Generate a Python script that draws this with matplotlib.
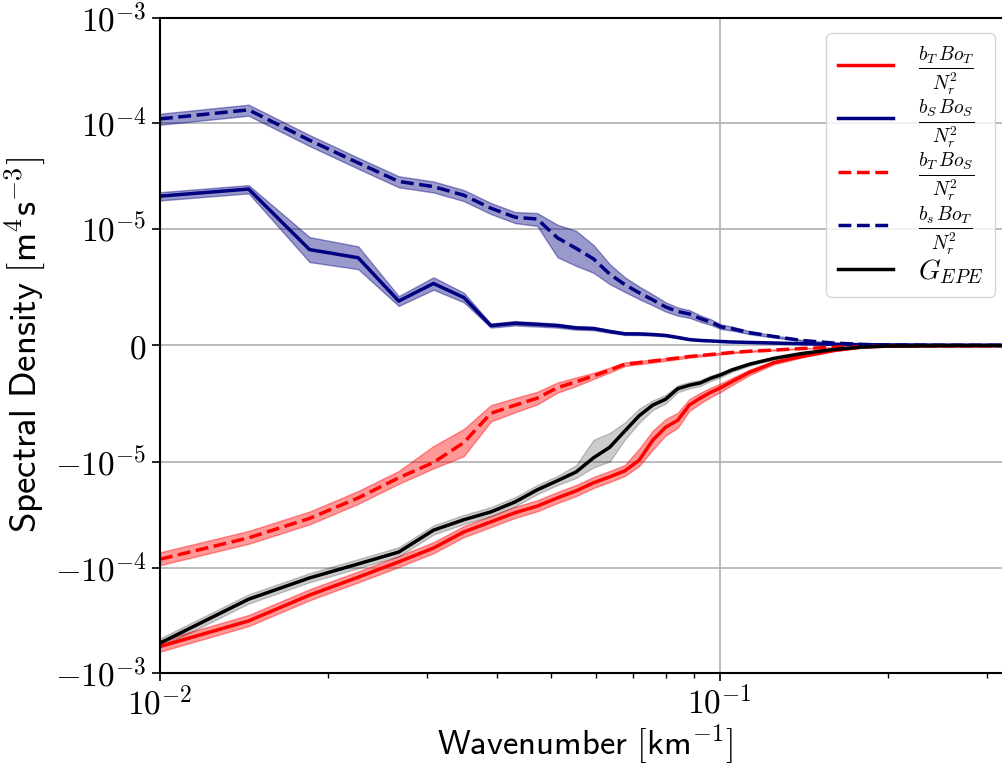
import numpy as np
import matplotlib
matplotlib.use("Agg")
import matplotlib.pyplot as plt

plt.rcParams['mathtext.fontset'] = 'cm'
plt.rcParams['font.family'] = ['DejaVu Sans']

# wavenumber [km^-1]
k = [0.0100, 0.0144, 0.0185, 0.0226, 0.0267, 0.0308, 0.0349, 0.0390, 0.0431, 0.0472,
     0.0513, 0.0554, 0.0595, 0.0636, 0.0677, 0.0718, 0.0759, 0.0800, 0.0841, 0.0882,
     0.0923, 0.0964, 0.1005, 0.105, 0.113, 0.125, 0.14, 0.16, 0.18, 0.20, 0.25, 0.33]

# b_S Bo_S / N_r^2  (navy dashed)
bS_BoS = [1.10e-4, 1.34e-4, 6.9e-5, 4.2e-5, 2.8e-5, 2.5e-5, 2.07e-5, 1.56e-5, 1.28e-5, 1.23e-5,
          9.2e-6, 8.3e-6, 7.4e-6, 6.1e-6, 5.2e-6, 4.5e-6, 3.9e-6, 3.3e-6, 2.9e-6, 2.7e-6,
          2.3e-6, 2.0e-6, 1.6e-6, 1.45e-6, 1.1e-6, 7.7e-7, 4.3e-7, 2.1e-7, 9e-8, 4e-8, 2e-8, 1e-8]
# b_S Bo_T / N_r^2  (navy solid)
bS_BoT = [2.03e-5, 2.37e-5, 8.2e-6, 7.5e-6, 3.8e-6, 5.3e-6, 4.1e-6, 1.7e-6, 1.9e-6, 1.8e-6,
          1.7e-6, 1.5e-6, 1.45e-6, 1.2e-6, 1.0e-6, 0.99e-6, 0.94e-6, 0.86e-6, 0.69e-6, 0.51e-6,
          0.43e-6, 0.39e-6, 0.34e-6, 0.30e-6, 0.26e-6, 0.21e-6, 0.15e-6, 0.10e-6, 0.07e-6, 0.05e-6,
          0.03e-6, 0.02e-6]
# b_T Bo_S / N_r^2  (red dashed)
bT_BoS = [-8.3e-5, -5.2e-5, -3.4e-5, -2.17e-5, -1.4e-5, -1.0e-5, -8.3e-6, -5.8e-6, -5.1e-6, -4.5e-6,
          -3.6e-6, -3.1e-6, -2.6e-6, -2.1e-6, -1.6e-6, -1.46e-6, -1.33e-6, -1.2e-6, -1.07e-6, -0.94e-6,
          -0.86e-6, -0.77e-6, -0.69e-6, -0.60e-6, -0.49e-6, -0.39e-6, -0.26e-6, -0.15e-6, -0.09e-6,
          -0.05e-6, -0.03e-6, -0.02e-6]
# b_T Bo_T / N_r^2  (red solid)
bT_BoT = [-5.6e-4, -3.2e-4, -1.82e-4, -1.23e-4, -8.8e-5, -6.5e-5, -4.57e-5, -3.67e-5, -3.0e-5, -2.6e-5,
          -2.17e-5, -1.86e-5, -1.56e-5, -1.37e-5, -1.2e-5, -9.8e-6, -8.1e-6, -7.0e-6, -6.4e-6, -5.1e-6,
          -4.5e-6, -4.0e-6, -3.6e-6, -3.1e-6, -2.3e-6, -1.46e-6, -0.94e-6, -0.43e-6, -0.13e-6,
          -0.05e-6, -0.02e-6, -0.01e-6]
# G_EPE (black)
G_EPE = [-5.2e-4, -1.99e-4, -1.25e-4, -9.2e-5, -7.1e-5, -4.4e-5, -3.5e-5, -2.95e-5, -2.37e-5, -1.82e-5,
         -1.49e-5, -1.23e-5, -9.6e-6, -8.7e-6, -7.3e-6, -6.0e-6, -5.1e-6, -4.6e-6, -3.7e-6, -3.4e-6,
         -3.2e-6, -2.8e-6, -2.5e-6, -2.1e-6, -1.6e-6, -1.1e-6, -0.69e-6, -0.34e-6, -0.13e-6,
         -0.05e-6, -0.02e-6, -0.01e-6]

# relative half-width of the shaded uncertainty bands
spread_bS_BoS = [0.12, 0.12, 0.12, 0.12, 0.12, 0.12, 0.12, 0.12, 0.12, 0.14,
                 0.18, 0.18, 0.16, 0.14, 0.12, 0.12, 0.12, 0.12, 0.12, 0.12,
                 0.12, 0.12, 0.12, 0.12, 0.12, 0.12, 0.12, 0.12, 0.12, 0.12, 0.12, 0.12]
spread_bS_BoT = [0.09, 0.09, 0.13, 0.13, 0.11, 0.10, 0.10, 0.10, 0.10, 0.10,
                 0.10, 0.10, 0.10, 0.10, 0.10, 0.10, 0.10, 0.10, 0.10, 0.10,
                 0.10, 0.10, 0.10, 0.10, 0.10, 0.10, 0.10, 0.10, 0.10, 0.10, 0.10, 0.10]
spread_bT_BoS = [0.14, 0.14, 0.14, 0.14, 0.14, 0.14, 0.14, 0.12, 0.12, 0.12,
                 0.12, 0.12, 0.10, 0.10, 0.10, 0.10, 0.10, 0.10, 0.10, 0.10,
                 0.10, 0.10, 0.10, 0.10, 0.10, 0.10, 0.10, 0.10, 0.10, 0.10, 0.10, 0.10]
spread_bT_BoT = [0.12, 0.12, 0.12, 0.12, 0.12, 0.12, 0.12, 0.12, 0.12, 0.12,
                 0.12, 0.12, 0.12, 0.12, 0.12, 0.10, 0.10, 0.10, 0.10, 0.10,
                 0.10, 0.10, 0.10, 0.10, 0.10, 0.10, 0.10, 0.10, 0.10, 0.10, 0.10, 0.10]
spread_G_EPE = [0.10, 0.10, 0.10, 0.10, 0.10, 0.10, 0.10, 0.10, 0.10, 0.10,
                0.10, 0.14, 0.16, 0.14, 0.10, 0.10, 0.08, 0.08, 0.08, 0.08,
                0.08, 0.08, 0.08, 0.08, 0.08, 0.08, 0.08, 0.08, 0.08, 0.08, 0.08, 0.08]

series = [
    (bT_BoT, spread_bT_BoT, 'red', '-', 0.4, r'$\frac{b_T\,Bo_T}{N_r^2}$'),
    (bS_BoT, spread_bS_BoT, 'navy', '-', 0.4, r'$\frac{b_S\,Bo_S}{N_r^2}$'),
    (bT_BoS, spread_bT_BoS, 'red', '--', 0.4, r'$\frac{b_T\,Bo_S}{N_r^2}$'),
    (bS_BoS, spread_bS_BoS, 'navy', '--', 0.4, r'$\frac{b_s\,Bo_T}{N_r^2}$'),
    (G_EPE, spread_G_EPE, 'black', '-', 0.2, r'$G_{EPE}$'),
]

fig = plt.figure(figsize=(10.03, 7.68), dpi=100)
ax = fig.add_axes([0.1595, 0.1237, 0.8475, 0.8529])

kx = np.array(k)
for vals, spr, col, ls, alp, lab in series:
    v = np.array(vals)
    f = np.array(spr)
    ax.fill_between(kx, v * (1 - f), v * (1 + f), color=col, alpha=alp, lw=1)
for vals, spr, col, ls, alp, lab in series:
    ax.plot(kx, vals, color=col, ls=ls, lw=2.5, label=lab)

ax.set_xscale('log')
ax.set_yscale('symlog', linthresh=1e-5, linscale=1)
ax.set_xlim(0.01, 0.33)
ax.set_ylim(-1e-3, 1e-3)

yt = [-1e-3, -1e-4, -1e-5, 0, 1e-5, 1e-4, 1e-3]
ytl = [r'$-10^{-3}$', r'$-10^{-4}$', r'$-10^{-5}$', r'$0$', r'$10^{-5}$', r'$10^{-4}$', r'$10^{-3}$']
ax.set_yticks(yt)
ax.set_yticklabels(ytl)
ax.yaxis.set_minor_locator(matplotlib.ticker.NullLocator())
ax.set_xticks([0.01, 0.1])
ax.set_xticklabels([r'$10^{-2}$', r'$10^{-1}$'])
ax.tick_params(axis='both', which='major', labelsize=24, length=6, width=1.2)
ax.tick_params(axis='x', which='minor', length=3.5, width=1)

ax.grid(True, which='major', color='#b0b0b0', lw=1.2)
ax.set_axisbelow(True)
for s in ax.spines.values():
    s.set_linewidth(1.5)

ax.set_xlabel(r'$\mathsf{Wavenumber\ [km}^{-1}\mathsf{]}$', fontsize=25, labelpad=1)
ax.set_ylabel(r'$\mathsf{Spectral\ Density\ [m}^4\mathsf{s}^{-3}\mathsf{]}$', fontsize=26.5, labelpad=6)

ax.legend(loc='upper right', fontsize=20, handlelength=2.0, labelspacing=0.0,
          borderaxespad=0.55, handletextpad=0.9)

fig.savefig('out.png', dpi=100)
